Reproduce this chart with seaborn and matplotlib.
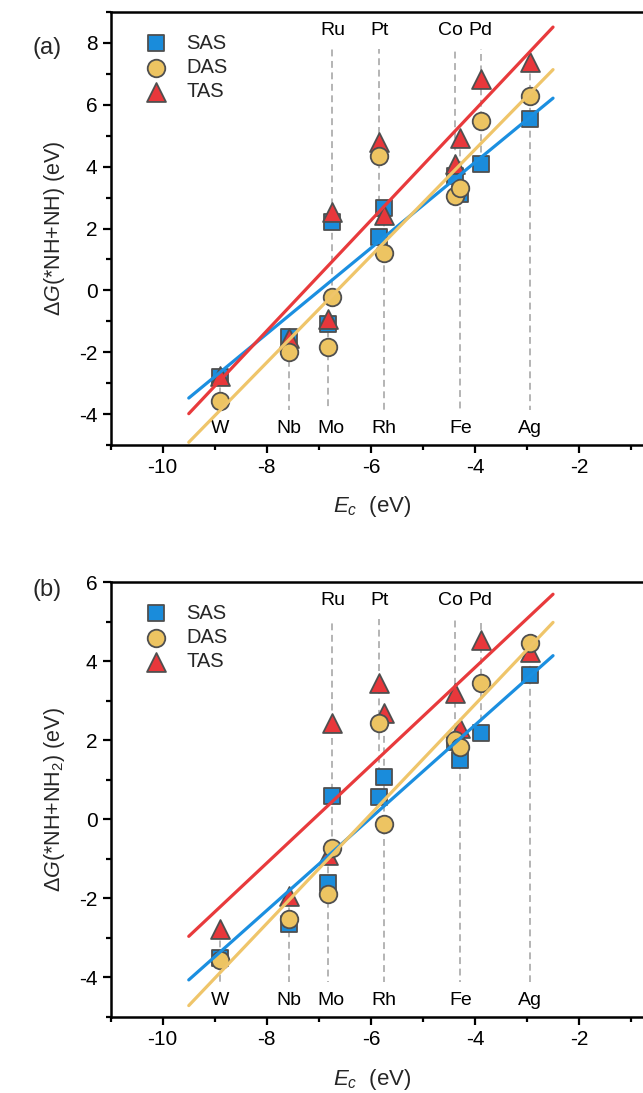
import matplotlib
matplotlib.use("Agg")
import matplotlib.pyplot as plt
from matplotlib.ticker import MultipleLocator
import numpy as np
import pandas as pd
import seaborn as sns

# DATA
elements = ['W', 'Nb', 'Mo', 'Ru', 'Pt', 'Rh', 'Co', 'Fe', 'Pd', 'Ag']
ec = [-8.90, -7.57, -6.82, -6.74, -5.84, -5.75, -4.39, -4.28, -3.89, -2.95]
top_labels = ['Ru', 'Pt', 'Co', 'Pd']
sites = ['SAS', 'DAS', 'TAS']

# (a) dG(*NH+NH)
a_sas = [-2.80, -1.50, -1.10, 2.22, 1.72, 2.65, 3.70, 3.10, 4.10, 5.55]
a_das = [-3.57, -1.98, -1.82, -0.22, 4.35, 1.20, 3.05, 3.30, 5.47, 6.28]
a_tas = [-2.78, -1.55, -0.93, 2.54, 4.80, 2.45, 4.10, 4.92, 6.82, 7.38]

# (b) dG(*NH+NH2)
b_sas = [-3.50, -2.65, -1.60, 0.59, 0.56, 1.06, 1.95, 1.50, 2.18, 3.65]
b_das = [-3.57, -2.53, -1.89, -0.73, 2.43, -0.12, 2.00, 1.83, 3.44, 4.45]
b_tas = [-2.78, -1.93, -0.90, 2.43, 3.44, 2.68, 3.19, 2.30, 4.53, 4.24]

fit_x = [-9.5, -2.5]

# STYLE
sns.set_style("ticks")
plt.rcParams['font.family'] = ['Liberation Sans', 'DejaVu Sans']
plt.rcParams['mathtext.fontset'] = 'custom'
plt.rcParams['mathtext.rm'] = 'Liberation Sans'
plt.rcParams['mathtext.it'] = 'Liberation Sans:italic'
plt.rcParams['axes.unicode_minus'] = False

fill = {'SAS': '#1A8CDB', 'DAS': '#EDC462', 'TAS': '#E8373B'}
line_col = {'SAS': '#1B8FE0', 'DAS': '#EFC56A', 'TAS': '#E83A3C'}
marker = {'SAS': 's', 'DAS': 'o', 'TAS': '^'}
msize = {'SAS': 140, 'DAS': 160, 'TAS': 185}
draw_order = ['SAS', 'TAS', 'DAS']
label_shift = {'Co': -0.08, 'Mo': 0.06}

PX = 52.04  # pixels per eV on x


def draw_panel(ax, sas, das, tas, ylim, ylabel, tag, tag_y):
    df = pd.DataFrame({
        'element': elements * 3,
        'Ec': ec * 3,
        'dG': sas + das + tas,
        'site': ['SAS'] * 10 + ['DAS'] * 10 + ['TAS'] * 10,
    })
    ax.set_xlim(-11, -11 + 560 / PX)
    ax.set_ylim(*ylim)
    span = ylim[1] - ylim[0]

    # element guide lines + labels
    ext = df.groupby('element')['dG'].agg(['min', 'max'])
    for el, x in zip(elements, ec):
        if el in top_labels:
            y0, y1 = ylim[0] + 0.915 * span, ext.loc[el, 'min']
            ty = ylim[0] + 0.957 * span
        else:
            y0, y1 = ylim[0] + 0.08 * span, ext.loc[el, 'max']
            ty = ylim[0] + 0.037 * span
        ax.vlines(x, y1, y0, colors='#a0a0a0', linestyles=(0, (4.5, 3)),
                  linewidth=1.1, zorder=1)
        ax.text(x + label_shift.get(el, 0), ty, el, ha='center', va='center',
                fontsize=14, color='black')

    for s in draw_order:
        sns.scatterplot(data=df[df['site'] == s], x='Ec', y='dG', ax=ax,
                        marker=marker[s], color=fill[s], s=msize[s],
                        edgecolor='#4f4f4f', linewidth=1.3, label=s, zorder=3)

    # linear fits
    for s in sites:
        vals = df.loc[df['site'] == s, 'dG'].to_numpy()
        k, b = np.polyfit(ec, vals, 1)
        xs = np.array(fit_x)
        ax.plot(xs, k * xs + b, color=line_col[s], linewidth=2.3, zorder=4)

    handles, labels = ax.get_legend_handles_labels()
    hmap = dict(zip(labels, handles))
    ax.legend([hmap[s] for s in sites], sites, loc='upper left',
              bbox_to_anchor=(0.045, 0.95), frameon=False, fontsize=14.5,
              handletextpad=0.5, labelspacing=0.26, borderaxespad=0.0,
              borderpad=0.0)

    ax.xaxis.set_major_locator(MultipleLocator(2))
    ax.xaxis.set_minor_locator(MultipleLocator(1))
    ax.yaxis.set_major_locator(MultipleLocator(2))
    ax.yaxis.set_minor_locator(MultipleLocator(1))
    ax.tick_params(which='major', direction='out', length=6, width=1.6,
                   labelsize=15, top=False, right=False, color='black',
                   labelcolor='black')
    ax.tick_params(which='minor', direction='out', length=3.5, width=1.6,
                   top=False, right=False, color='black')
    for side in ['left', 'bottom', 'top']:
        ax.spines[side].set_linewidth(1.8)
        ax.spines[side].set_color('black')
    ax.spines['right'].set_visible(False)

    ax.set_xlabel(r'$\mathit{E_c}$  (eV)', fontsize=16)
    ax.xaxis.set_label_coords((372 - 110.7) / 560, -0.143)
    ax.xaxis.label.set_va('center')
    ax.set_ylabel(ylabel, fontsize=15.5)
    ax.yaxis.set_label_coords(-0.1, 0.5)
    ax.yaxis.label.set_va('center')
    fig.text(0.05, tag_y, tag, fontsize=17, ha='left', va='center')


fig = plt.figure(figsize=(6.43, 10.93), dpi=100)
left = 110.7 / 643
width = 560 / 643
ax_a = fig.add_axes([left, (1093 - 445) / 1093, width, 433 / 1093])
ax_b = fig.add_axes([left, (1093 - 1017) / 1093, width, 435 / 1093])

draw_panel(ax_a, a_sas, a_das, a_tas, (-5, 9),
           'Δ$\\mathit{G}$(*NH+NH) (eV)', '(a)', 1 - 48 / 1093)
draw_panel(ax_b, b_sas, b_das, b_tas, (-5, 6),
           'Δ$\\mathit{G}$(*NH+NH$_2$) (eV)', '(b)', 1 - 590 / 1093)

fig.savefig('out.png', dpi=100)
